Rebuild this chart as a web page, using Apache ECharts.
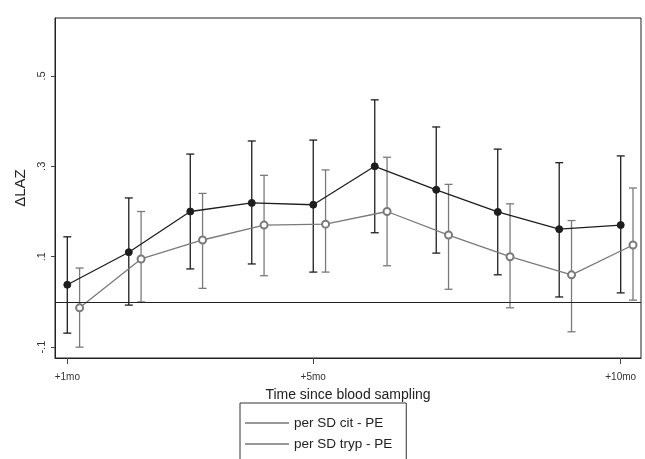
<!DOCTYPE html>
<html>
<head>
<meta charset="utf-8">
<script src="https://cdn.jsdelivr.net/npm/echarts@6/dist/echarts.min.js"></script>
<style>
  html, body { margin: 0; padding: 0; background: #fff; }
  #chart { width: 645px; height: 459px; }
</style>
</head>
<body>
<div id="chart"></div>
<script>
// months after blood sampling
var months = [1, 2, 3, 4, 5, 6, 7, 8, 9, 10];
var xTicks = [1, 5, 10];
var xTickLabels = ['+1mo', '+5mo', '+10mo'];
var yTicks = [-0.1, 0.1, 0.3, 0.5];
var yTickLabels = ['-.1', '.1', '.3', '.5'];

// per SD cit - PE
var citMean = [0.038, 0.11, 0.20, 0.219, 0.215, 0.30, 0.248, 0.199, 0.161, 0.17];
var citLow  = [-0.069, -0.007, 0.073, 0.084, 0.066, 0.153, 0.108, 0.06, 0.011, 0.02];
var citHigh = [0.144, 0.23, 0.327, 0.356, 0.358, 0.447, 0.387, 0.338, 0.308, 0.323];

// per SD tryp - PE
var trypMean = [-0.013, 0.095, 0.137, 0.17, 0.172, 0.20, 0.148, 0.10, 0.06, 0.126];
var trypLow  = [-0.10, 0.0, 0.03, 0.058, 0.066, 0.08, 0.028, -0.013, -0.066, 0.004];
var trypHigh = [0.075, 0.20, 0.24, 0.28, 0.292, 0.32, 0.26, 0.217, 0.18, 0.252];

var trypShift = 0.2; // tryp estimates drawn slightly to the right

var chart = echarts.init(document.getElementById('chart'));

function pairs(xs, ys, shift) {
    var out = [];
    for (var i = 0; i < xs.length; i++) out.push([xs[i] + shift, ys[i]]);
    return out;
}
function bars(xs, lo, hi, shift) {
    var out = [];
    for (var i = 0; i < xs.length; i++) out.push([xs[i] + shift, lo[i], hi[i]]);
    return out;
}

function errorBar(color) {
    return function (params, api) {
        var top = api.coord([api.value(0), api.value(2)]);
        var bot = api.coord([api.value(0), api.value(1)]);
        var w = 4;
        var st = { stroke: color, lineWidth: 1.3 };
        return {
            type: 'group',
            children: [
                { type: 'line', shape: { x1: top[0], y1: top[1], x2: bot[0], y2: bot[1] }, style: st },
                { type: 'line', shape: { x1: top[0] - w, y1: top[1], x2: top[0] + w, y2: top[1] }, style: st },
                { type: 'line', shape: { x1: bot[0] - w, y1: bot[1], x2: bot[0] + w, y2: bot[1] }, style: st }
            ]
        };
    };
}

var darkC = '#1e1e1e';
var grayC = '#7a7a7a';

var option = {
    backgroundColor: '#fff',
    animation: false,
    textStyle: { fontFamily: 'Liberation Sans, Arial, sans-serif' },
    grid: {
        left: 55, right: 4, top: 18, bottom: 101,
        show: true, borderColor: '#222', borderWidth: 1
    },
    xAxis: {
        type: 'value',
        min: 0.8, max: 10.33,
        name: 'Time since blood sampling',
        nameLocation: 'middle',
        nameGap: 30,
        nameMoveOverlap: false,
        nameTextStyle: { fontSize: 14, color: '#222' },
        axisLine: { show: true, onZero: false, lineStyle: { color: '#222' } },
        axisTick: { show: true, length: 6, customValues: xTicks, lineStyle: { color: '#444' } },
        axisLabel: {
            fontSize: 10, color: '#333', margin: 14,
            customValues: xTicks,
            formatter: function (v) {
                var i = xTicks.indexOf(Math.round(v));
                return i >= 0 ? xTickLabels[i] : '';
            }
        },
        splitLine: { show: false }
    },
    yAxis: {
        type: 'value',
        min: -0.124, max: 0.628,
        name: 'ΔLAZ',
        nameLocation: 'middle',
        nameGap: 27,
        nameRotate: 90,
        nameTextStyle: { fontSize: 15, color: '#222' },
        axisLine: { show: true, onZero: false, lineStyle: { color: '#222' } },
        axisTick: { show: true, length: 4, customValues: yTicks, lineStyle: { color: '#444' } },
        axisLabel: {
            fontSize: 11, color: '#333', rotate: 90, margin: 8,
            customValues: yTicks,
            formatter: function (v) {
                for (var i = 0; i < yTicks.length; i++) {
                    if (Math.abs(yTicks[i] - v) < 1e-6) return yTickLabels[i];
                }
                return '';
            }
        },
        splitLine: { show: false }
    },
    legend: {
        orient: 'vertical',
        left: 240,
        top: 403,
        width: 145,
        height: 60,
        padding: [12, 14, 20, 5],
        itemGap: 5,
        itemWidth: 44,
        itemHeight: 1,
        borderColor: '#333',
        borderWidth: 1,
        borderRadius: 0,
        icon: 'rect',
        itemStyle: { color: '#333', borderWidth: 0 },
        textStyle: { fontSize: 13.5, color: '#222', lineHeight: 16 },
        data: ['per SD cit - PE', 'per SD tryp - PE']
    },
    series: [
        {
            name: 'per SD cit - PE',
            type: 'line',
            data: pairs(months, citMean, 0),
            symbol: 'circle',
            symbolSize: 7,
            itemStyle: { color: darkC, borderColor: darkC },
            lineStyle: { color: darkC, width: 1.3 },
            z: 4,
            markLine: {
                silent: true,
                symbol: 'none',
                label: { show: false },
                lineStyle: { color: '#222', width: 1.2, type: 'solid' },
                data: [{ yAxis: 0 }]
            }
        },
        {
            name: 'per SD tryp - PE',
            type: 'line',
            data: pairs(months, trypMean, trypShift),
            symbol: 'emptyCircle',
            symbolSize: 7,
            itemStyle: { color: grayC, borderColor: grayC, borderWidth: 1.2 },
            lineStyle: { color: grayC, width: 1.3 },
            z: 4
        },
        {
            name: 'cit CI',
            type: 'custom',
            renderItem: errorBar(darkC),
            data: bars(months, citLow, citHigh, 0),
            encode: { x: 0, y: [1, 2] },
            z: 3
        },
        {
            name: 'tryp CI',
            type: 'custom',
            renderItem: errorBar(grayC),
            data: bars(months, trypLow, trypHigh, trypShift),
            encode: { x: 0, y: [1, 2] },
            z: 3
        }
    ]
};

option && chart.setOption(option);
</script>
</body>
</html>
